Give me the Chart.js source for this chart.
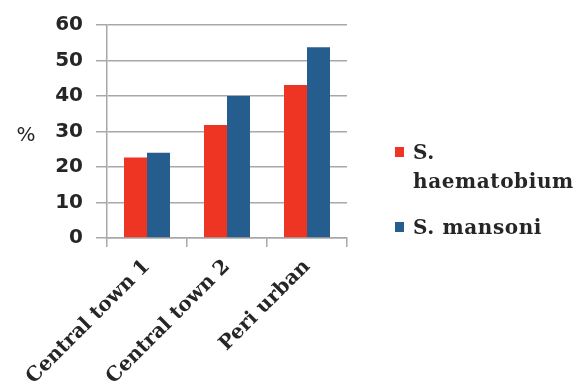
<!DOCTYPE html>
<html>
<head>
<meta charset="utf-8">
<script src="https://cdn.jsdelivr.net/npm/chart.js@4/dist/chart.umd.min.js"></script>
<style>
  html, body { margin: 0; padding: 0; background: #fff; }
  #wrap { position: relative; width: 582px; height: 389px; }
</style>
</head>
<body>
<div id="wrap"><canvas id="c" width="582" height="389"></canvas></div>
<script>
// Prevalence (%) by area
const categories = ["Central town 1", "Central town 2", "Peri urban"];
const seriesNames = ["S. haematobium", "S. mansoni"];
const haematobium = [22.7, 31.8, 43.1];
const mansoni = [24.0, 40.0, 53.7];
const yTicks = [0, 10, 20, 30, 40, 50, 60];
const yTitle = "%";

const RED = "#EE3524";
const BLUE = "#265D8F";
const TEXT = "#262626";
const GRID = "#a8a8a8";

// Y title drawn horizontally to the left of the value axis
const yTitlePlugin = {
  id: "yTitle",
  afterDraw(chart) {
    const { ctx, chartArea } = chart;
    ctx.save();
    ctx.font = "20px 'DejaVu Sans'";
    ctx.fillStyle = TEXT;
    ctx.textAlign = "center";
    ctx.textBaseline = "middle";
    ctx.fillText(yTitle, 26, (chartArea.top + chartArea.bottom) / 2 + 4);
    ctx.restore();
  }
};

// Legend on the right with wrapped series names
const sideLegend = {
  id: "sideLegend",
  afterDraw(chart) {
    const { ctx } = chart;
    ctx.save();
    ctx.font = "bold 20px 'DejaVu Serif'";
    ctx.letterSpacing = "0.6px";
    ctx.textBaseline = "alphabetic";
    ctx.textAlign = "left";
    const x0 = 395, textX = 413, maxW = 168, lineH = 29;
    let baseline = 159;
    chart.data.datasets.forEach((ds, i) => {
      // wrap words into lines that fit
      const words = ds.label.split(" ");
      const lines = [];
      let cur = "";
      words.forEach(w => {
        const t = cur ? cur + " " + w : w;
        if (cur && ctx.measureText(t).width > maxW) { lines.push(cur); cur = w; }
        else cur = t;
      });
      if (cur) lines.push(cur);
      ctx.fillStyle = ds.backgroundColor;
      ctx.fillRect(x0, baseline - 12, 9, 10);
      ctx.fillStyle = TEXT;
      lines.forEach((ln, k) => ctx.fillText(ln, textX, baseline + k * lineH));
      baseline += lines.length * lineH + 17;
    });
    ctx.restore();
  }
};

new Chart(document.getElementById("c"), {
  type: "bar",
  data: {
    labels: categories,
    datasets: [
      { label: seriesNames[0], data: haematobium, backgroundColor: RED },
      { label: seriesNames[1], data: mansoni, backgroundColor: BLUE }
    ]
  },
  options: {
    responsive: false,
    animation: false,
    events: [],
    layout: { padding: { top: 24, right: 235, left: 0, bottom: 0 } },
    datasets: { bar: { categoryPercentage: 0.575, barPercentage: 1.0 } },
    plugins: { legend: { display: false }, tooltip: { enabled: false } },
    scales: {
      x: {
        offset: true,
        afterFit(s) { s.height = 151; },
        grid: { display: true, drawOnChartArea: false, drawTicks: true, tickLength: 9, color: GRID, lineWidth: 1.5, offset: true },
        border: { display: true, color: GRID, width: 1.5 },
        ticks: {
          minRotation: 45, maxRotation: 45, color: TEXT, padding: 8,
          font: { family: "'DejaVu Serif'", weight: "bold", size: 20 }
        }
      },
      y: {
        min: 0, max: 60,
        afterFit(s) { s.width = 107; },
        afterBuildTicks(s) { s.ticks = yTicks.map(v => ({ value: v })); },
        grid: { color: GRID, lineWidth: 1.5, tickLength: 11 },
        border: { display: true, color: GRID, width: 1.5 },
        ticks: {
          color: TEXT, padding: 13,
          font: { family: "'DejaVu Sans'", weight: "bold", size: 20 }
        }
      }
    }
  },
  plugins: [yTitlePlugin, sideLegend]
});
</script>
</body>
</html>
